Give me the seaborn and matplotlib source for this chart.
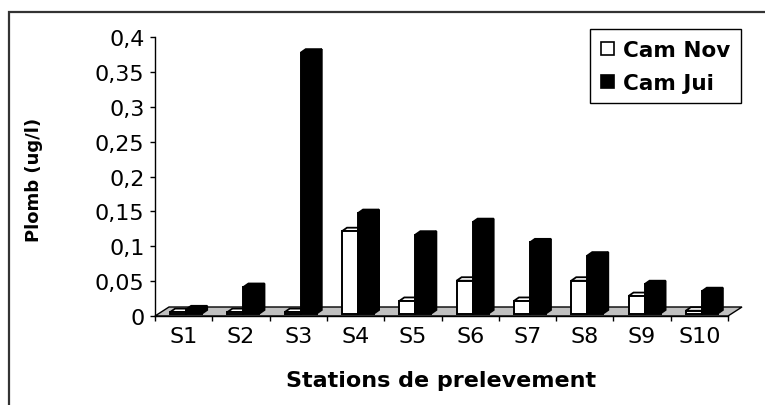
import numpy as np
import pandas as pd
import matplotlib
matplotlib.use("Agg")
import matplotlib.pyplot as plt
import seaborn as sns
from matplotlib.patches import Polygon, Rectangle, Patch
from matplotlib.transforms import ScaledTranslation

# Lead concentration per sampling station, two campaigns
stations = ["S1", "S2", "S3", "S4", "S5", "S6", "S7", "S8", "S9", "S10"]
cam_nov = [0.002, 0.002, 0.002, 0.118, 0.018, 0.047, 0.018, 0.047, 0.025, 0.004]
cam_jui = [0.006, 0.038, 0.374, 0.144, 0.113, 0.131, 0.102, 0.083, 0.042, 0.032]
series_names = ["Cam Nov", "Cam Jui"]
y_ticks = [0, 0.05, 0.1, 0.15, 0.2, 0.25, 0.3, 0.35, 0.4]
y_tick_labels = ["0", "0,05", "0,1", "0,15", "0,2", "0,25", "0,3", "0,35", "0,4"]

sns.set_theme(style="white")
plt.rcParams["font.family"] = ["DejaVu Sans"]
plt.rcParams["text.color"] = "black"

df = pd.DataFrame({
    "Station": stations * 2,
    "Plomb": cam_nov + cam_jui,
    "Campagne": [series_names[0]] * len(stations) + [series_names[1]] * len(stations),
})

W, H = 765, 406
fig = plt.figure(figsize=(W / 100, H / 100), dpi=100)
ax = fig.add_axes([155 / W, 1 - 317 / H, 573 / W, 279 / H])

sns.barplot(data=df, x="Station", y="Plomb", hue="Campagne",
            palette=["white", "black"], saturation=1, width=0.56, gap=0,
            edgecolor="black", linewidth=1.4, errorbar=None,
            legend=False, ax=ax)
bars = sorted(ax.patches, key=lambda p: p.get_x())

ax.set_xlim(-0.5, len(stations) - 0.5)
ax.set_ylim(0, 0.4)

# pixel -> data conversions for the pseudo-3D offsets
p0 = ax.transData.transform((0, 0))
p1 = ax.transData.transform((1, 1))
px_x = p1[0] - p0[0]
px_y = p1[1] - p0[1]

def dx(px):
    return px / px_x

def dy(px):
    return px / px_y

# grey floor plane
floor_dx, floor_dy = dx(14), dy(9)
x_lo, x_hi = -0.5, len(stations) - 0.5
floor = Polygon([(x_lo, 0), (x_hi, 0), (x_hi + floor_dx, floor_dy), (x_lo + floor_dx, floor_dy)],
                closed=True, facecolor="#c0c0c0", edgecolor="black", lw=1.0,
                zorder=1, clip_on=False)
ax.add_patch(floor)

# bars sit slightly inside the floor, with a shallow depth
front_dx, front_dy = dx(2.5), dy(2.5)
depth_dx, depth_dy = dx(5), dy(3.5)
front_shift = ScaledTranslation(2.5 / 100, 2.5 / 100, fig.dpi_scale_trans)

for i, bar in enumerate(bars):
    x0, w, h = bar.get_x(), bar.get_width(), bar.get_height()
    fc = bar.get_facecolor()
    bx, by = x0 + front_dx, front_dy
    z = 2 + 3 * i
    side = Polygon([(bx + w, by), (bx + w + depth_dx, by + depth_dy),
                    (bx + w + depth_dx, by + h + depth_dy), (bx + w, by + h)],
                   closed=True, facecolor=fc, edgecolor="black", lw=1.3,
                   zorder=z, clip_on=False)
    top = Polygon([(bx, by + h), (bx + w, by + h),
                   (bx + w + depth_dx, by + h + depth_dy), (bx + depth_dx, by + h + depth_dy)],
                  closed=True, facecolor=fc, edgecolor="black", lw=1.3,
                  zorder=z + 1, clip_on=False)
    ax.add_patch(side)
    ax.add_patch(top)
    bar.set_transform(ax.transData + front_shift)
    bar.set_zorder(z + 2)
    bar.set_clip_on(False)

# axes styling
for s in ["top", "right"]:
    ax.spines[s].set_visible(False)
ax.spines["left"].set_color("black")
ax.spines["left"].set_linewidth(1.0)
ax.spines["left"].set_zorder(100)
ax.spines["bottom"].set_color("black")
ax.spines["bottom"].set_linewidth(1.0)

ax.set_yticks(y_ticks)
ax.set_yticklabels(y_tick_labels)
ax.set_xticks(range(len(stations)))
ax.set_xticklabels(stations)
ax.set_xticks(np.arange(-0.5, len(stations), 1.0), minor=True)
ax.tick_params(axis="y", which="major", length=3.6, width=1, color="black",
               direction="out", left=True, pad=4, labelsize=16, labelcolor="black")
ax.tick_params(axis="x", which="major", length=0, pad=7, labelsize=16, labelcolor="black")
ax.tick_params(axis="x", which="minor", length=3.6, width=1, color="black",
               direction="out", bottom=True)

ax.set_xlabel("Stations de prelevement", fontsize=16, fontweight="bold", color="black")
ax.set_ylabel("Plomb (ug/l)", fontsize=13, fontweight="bold", color="black")
ax.xaxis.set_label_coords(0.5, -0.195)
ax.yaxis.set_label_coords(-0.195, 0.49)

handles = [Patch(facecolor="white", edgecolor="black", lw=1.2),
           Patch(facecolor="black", edgecolor="black", lw=1.2)]
leg = ax.legend(handles, series_names, loc="upper right",
                bbox_to_anchor=(741 / W, 1 - 30 / H), bbox_transform=fig.transFigure,
                frameon=True, fancybox=False, shadow=False, framealpha=1,
                edgecolor="black", prop={"weight": "bold", "size": 15.5},
                handlelength=0.62, handleheight=0.55, handletextpad=0.4,
                labelspacing=0.6, borderpad=0.5, borderaxespad=0)
leg.get_frame().set_linewidth(1.0)
for t in leg.get_texts():
    t.set_color("black")

# outer chart border
fig.add_artist(Rectangle((9 / W, -0.1), 1.2, 1 - 13 / H + 0.1, transform=fig.transFigure,
                         fill=False, edgecolor="#333333", lw=1.6))

fig.savefig("out.png", dpi=100)
